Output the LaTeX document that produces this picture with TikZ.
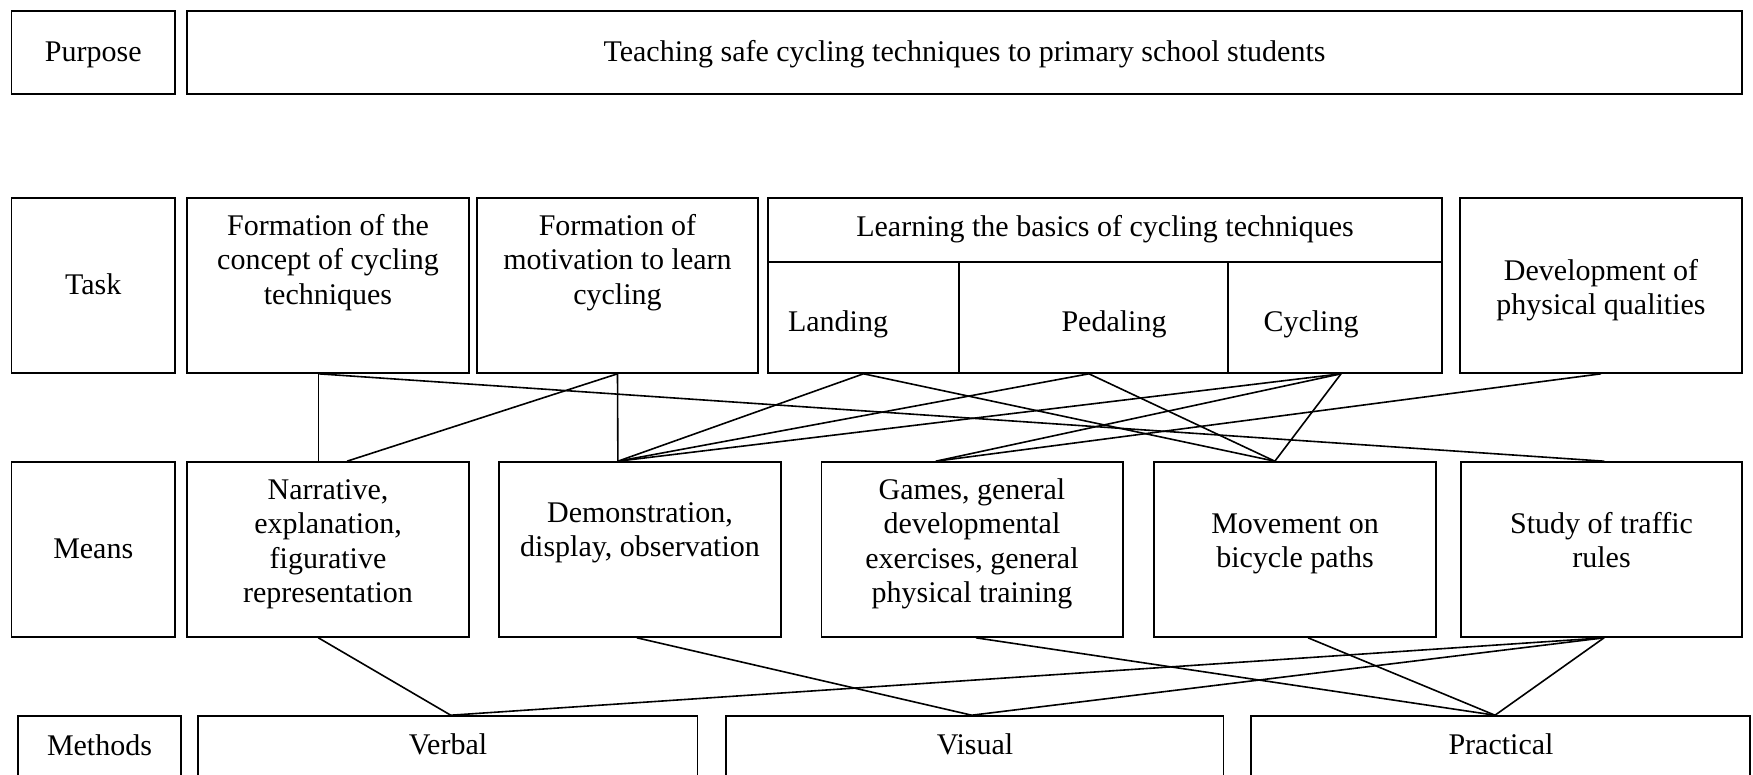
\documentclass[tikz,border=0pt]{standalone}
\usepackage{fontspec}
\setmainfont{Liberation Serif}
\usetikzlibrary{calc,fit}
\begin{document}
\begin{tikzpicture}[x=1pt,y=-1pt,
  box/.style={draw, line width=1.6pt, inner sep=0pt},
  lbl/.style={anchor=north, inner sep=0pt, align=center,
              font=\fontsize{30}{34.5}\selectfont},
  link/.style={line width=1.6pt}]
\useasboundingbox (0,0) rectangle (1753,774);
\fill[white] (0,0) rectangle (1753,774);
\clip (0,0) rectangle (1753,774);

% ---------- Purpose row ----------
\node[box, fit={(11.5,11) (175,94)}] (purposeLbl) {};
\node[box, fit={(187,11) (1742,94)}] (purpose) {};
\node[lbl] (tPurposeLbl) at (93.25,36.85) {\strut Purpose};
\node[lbl] (tPurpose) at (964.5,36.85) {\strut Teaching safe cycling techniques to primary school students};

% ---------- Task row ----------
\node[box, fit={(11.5,198) (175,373)}] (taskLbl) {};
\node[box, fit={(187,198) (469,373)}] (concept) {};
\node[box, fit={(477,198) (758,373)}] (motiv) {};
\node[box, fit={(768,198) (1442,373)}] (learn) {};
\node[box, fit={(768,198) (1442,262)}] (learnHead) {};
\node[box, fit={(768,262) (959,373)}] (landing) {};
\node[box, fit={(959,262) (1228,373)}] (pedaling) {};
\node[box, fit={(1228,262) (1442,373)}] (cycling) {};
\node[box, fit={(1460,198) (1742,373)}] (devel) {};

\node[lbl] (tTask) at (93.25,269.85) {\strut Task};
\node[lbl] (tConcept) at (328,210.85) {\strut Formation of the\\concept of cycling\\techniques};
\node[lbl] (tMotiv) at (617.5,210.85) {\strut Formation of\\motivation to learn\\cycling};
\node[lbl] (tLearn) at (1105,212.5) {\strut Learning the basics of cycling techniques};
\node[lbl] (tLanding) at (838,306.85) {\strut Landing};
\node[lbl] (tPedaling) at (1114,306.85) {\strut Pedaling};
\node[lbl] (tCycling) at (1311,306.85) {\strut Cycling};
\node[lbl] (tDevel) at (1601,255.85) {\strut Development of\\physical qualities};

% ---------- Means row ----------
\node[box, fit={(11.5,462) (175,637)}] (meansLbl) {};
\node[box, fit={(187,462) (469,637)}] (narr) {};
\node[box, fit={(499,462) (781,637)}] (demo) {};
\node[box, fit={(821.5,462) (1123,637)}] (games) {};
\node[box, fit={(1154,462) (1436,637)}] (move) {};
\node[box, fit={(1461,462) (1742,637)}] (study) {};

\node[lbl] (tMeans) at (93.25,533.85) {\strut Means};
\node[lbl] (tNarr) at (328,474.85) {\strut Narrative,\\explanation,\\figurative\\representation};
\node[lbl] (tDemo) at (640,497.85) {\strut Demonstration,\\display, observation};
\node[lbl] (tGames) at (972,474.85) {\strut Games, general\\developmental\\exercises, general\\physical training};
\node[lbl] (tMove) at (1295,508.85) {\strut Movement on\\bicycle paths};
\node[lbl] (tStudy) at (1601.5,508.85) {\strut Study of traffic\\rules};

% ---------- Methods row (boxes run past the lower edge) ----------
\node[box, fit={(18,716) (181,800)}] (methLbl) {};
\node[box, fit={(198,716) (697.5,800)}] (verbal) {};
\node[box, fit={(726,716) (1223.5,800)}] (visual) {};
\node[box, fit={(1251,716) (1750,800)}] (practical) {};

\node[lbl] (tMeth) at (99.5,730.85) {\strut Methods};
\node[lbl] (tVerbal) at (448,729.85) {\strut Verbal};
\node[lbl] (tVisual) at (975,729.85) {\strut Visual};
\node[lbl] (tPractical) at (1501,729.85) {\strut Practical};

% ---------- attachment points on box edges ----------
\coordinate (conceptS) at ($(concept.south west)!0.466!(concept.south east)$);
\coordinate (pedalS)   at ($(pedaling.south west)!0.483!(pedaling.south east)$);
\coordinate (cyclS)    at ($(cycling.south west)!0.528!(cycling.south east)$);

\coordinate (narrN1) at ($(narr.north west)!0.466!(narr.north east)$);
\coordinate (narrN2) at ($(narr.north west)!0.567!(narr.north east)$);
\coordinate (demoN)  at ($(demo.north west)!0.422!(demo.north east)$);
\coordinate (gamesN) at ($(games.north west)!0.38!(games.north east)$);
\coordinate (moveN)  at ($(move.north west)!0.429!(move.north east)$);
\coordinate (studyN) at ($(study.north west)!0.51!(study.north east)$);

\coordinate (narrS)  at ($(narr.south west)!0.466!(narr.south east)$);
\coordinate (demoS)  at ($(demo.south west)!0.489!(demo.south east)$);
\coordinate (gamesS) at ($(games.south west)!0.512!(games.south east)$);
\coordinate (moveS)  at ($(move.south west)!0.546!(move.south east)$);
\coordinate (studyS) at ($(study.south west)!0.509!(study.south east)$);

\coordinate (verbalN) at ($(verbal.north west)!0.506!(verbal.north east)$);
\coordinate (visualN) at ($(visual.north west)!0.494!(visual.north east)$);
\coordinate (practN)  at ($(practical.north west)!0.489!(practical.north east)$);

% ---------- tasks to means ----------
\draw[link] (conceptS) -- (narrN1);
\draw[link] (conceptS) -- (studyN);
\draw[link] (motiv.south) -- (narrN2);
\draw[link] (motiv.south) -- (demoN);
\draw[link] (landing.south) -- (demoN);
\draw[link] (landing.south) -- (moveN);
\draw[link] (pedalS) -- (demoN);
\draw[link] (pedalS) -- (moveN);
\draw[link] (cyclS) -- (demoN);
\draw[link] (cyclS) -- (gamesN);
\draw[link] (cyclS) -- (moveN);
\draw[link] (devel.south) -- (gamesN);

% ---------- means to methods ----------
\draw[link] (narrS) -- (verbalN);
\draw[link] (demoS) -- (visualN);
\draw[link] (gamesS) -- (practN);
\draw[link] (moveS) -- (practN);
\draw[link] (studyS) -- (verbalN);
\draw[link] (studyS) -- (visualN);
\draw[link] (studyS) -- (practN);
\end{tikzpicture}
\end{document}
